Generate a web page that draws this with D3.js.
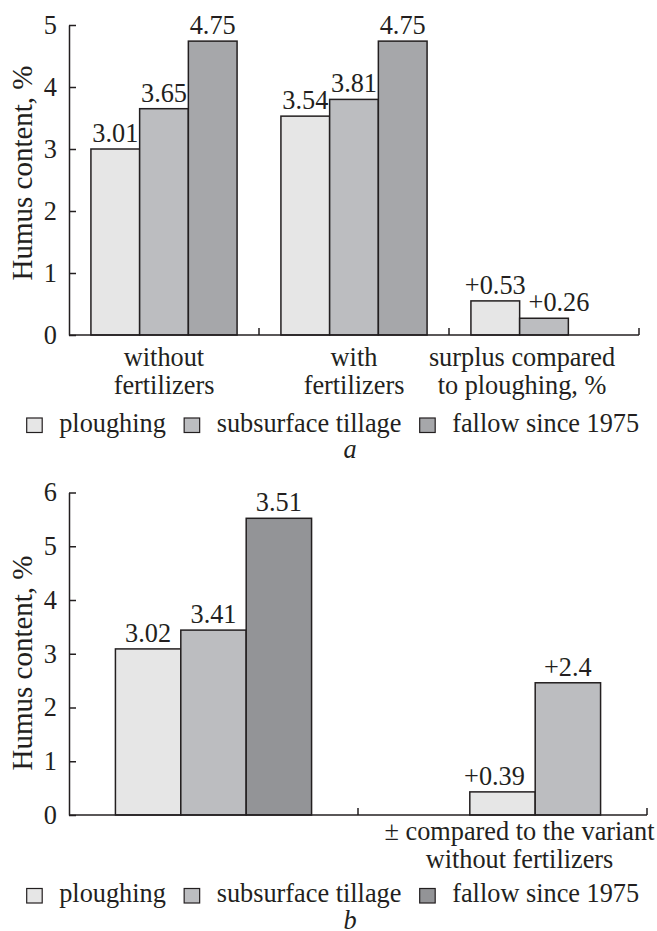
<!DOCTYPE html>
<html><head><meta charset="utf-8">
<script src="https://cdn.jsdelivr.net/npm/d3@7"></script>
<style>
body{margin:0;background:#fff}
svg{display:block}
</style>
</head><body>
<svg id="c" width="657" height="931"></svg>
<script>
// ---------- data ----------
const seriesNames = ["ploughing", "subsurface tillage", "fallow since 1975"];

// panel a
const aCategories = ["without fertilizers", "with fertilizers", "surplus compared to ploughing, %"];
const aCategoryLines = [["without", "fertilizers"], ["with", "fertilizers"], ["surplus compared", "to ploughing, %"]];
const aPloughing = [3.00, 3.53, 0.55];
const aSubsurface = [3.65, 3.80, 0.27];
const aFallow = [4.74, 4.74, null];
const aPloughingLabels = ["3.01", "3.54", "+0.53"];
const aSubsurfaceLabels = ["3.65", "3.81", "+0.26"];
const aFallowLabels = ["4.75", "4.75", null];
const aTicks = [0, 1, 2, 3, 4, 5];

// panel b
const bCategories = ["control", "± compared to the variant without fertilizers"];
const bCategoryLines = [[], ["± compared to the variant", "without fertilizers"]];
const bGroup1Values = [3.09, 3.44, 5.52];
const bGroup1Labels = ["3.02", "3.41", "3.51"];
const bGroup1Series = [0, 1, 2];
const bGroup2Values = [null, 0.43, 2.46];
const bGroup2Labels = [null, "+0.39", "+2.4"];
const bGroup2Series = [null, 0, 1];
const bTicks = [0, 1, 2, 3, 4, 5, 6];

const yTitle = "Humus content, %";

// ---------- style ----------
const FONT = "Liberation Serif";
const FS = 26.3;
const INK = "#231f20";
const colorsA = ["#e6e6e6", "#bcbdc0", "#a6a7aa"];
const colorsB = ["#e6e6e6", "#bcbdc0", "#939497"];

const svg = d3.select("#c");

function txt(sel) {
  return sel.style("font-family", FONT).attr("fill", INK);
}

function panel(cfg) {
  const g = svg.append("g");
  const x = d3.scaleBand().domain(cfg.categories).range([cfg.x0, cfg.x1]).padding(0);
  const slot = d3.scaleBand().domain([0, 1, 2]).range([0, x.bandwidth()])
      .paddingInner(0).paddingOuter(cfg.slotPad);
  const y = d3.scaleLinear().domain([0, cfg.ymax]).range([cfg.yBottom, cfg.yTop]);

  // bars
  const bars = cfg.bars.filter(d => d.value != null);
  g.selectAll("rect.bar").data(bars).join("rect")
    .attr("x", d => x(d.cat) + slot(d.slot))
    .attr("y", d => y(d.value))
    .attr("width", slot.bandwidth())
    .attr("height", d => y(0) - y(d.value))
    .attr("fill", d => cfg.colors[d.series])
    .attr("stroke", INK).attr("stroke-width", 1.5);

  g.selectAll("text.val").data(bars).join("text")
    .attr("x", d => x(d.cat) + slot(d.slot) + slot.bandwidth() / 2 + (d.dx || 0))
    .attr("y", d => y(d.value) - 7)
    .attr("text-anchor", "middle")
    .attr("font-size", FS)
    .call(txt)
    .text(d => d.label);

  // y axis
  const ax = g.append("g").attr("transform", `translate(${cfg.x0},0)`)
    .call(d3.axisLeft(y).tickValues(cfg.ticks).tickFormat(d3.format("d"))
      .tickSizeInner(-7).tickSizeOuter(0).tickPadding(12));
  ax.selectAll("path,line").attr("stroke", INK).attr("stroke-width", 1.5);
  ax.selectAll("text").attr("font-size", FS).call(txt);

  // x axis line + category separators
  g.append("line").attr("x1", cfg.x0).attr("x2", cfg.x1)
    .attr("y1", y(0)).attr("y2", y(0)).attr("stroke", INK).attr("stroke-width", 1.5);
  g.selectAll("line.sep").data(cfg.categories).join("line")
    .attr("x1", d => x(d) + x.bandwidth()).attr("x2", d => x(d) + x.bandwidth())
    .attr("y1", y(0)).attr("y2", y(0) - 7)
    .attr("stroke", INK).attr("stroke-width", 1.5);

  // category labels
  cfg.categories.forEach((c, i) => {
    cfg.catLines[i].forEach((t, j) => {
      g.append("text")
        .attr("x", x(c) + x.bandwidth() / 2 + cfg.catDx[i])
        .attr("y", y(0) + cfg.catGap + j * 28)
        .attr("text-anchor", "middle").attr("font-size", FS).call(txt).text(t);
    });
  });

  // y title
  g.append("text")
    .attr("transform", `translate(32,${cfg.titleY}) rotate(-90)`)
    .attr("text-anchor", "middle").attr("font-size", 29).call(txt).text(yTitle);

  // legend
  let lx = 26.7;
  seriesNames.forEach((s, i) => {
    g.append("rect").attr("x", lx).attr("y", cfg.legendY - 13.5).attr("width", 15.5).attr("height", 14.5)
      .attr("fill", cfg.colors[i]).attr("stroke", INK).attr("stroke-width", 1.2);
    const t = g.append("text").attr("x", lx + 32.5).attr("y", cfg.legendY)
      .attr("font-size", FS).call(txt).text(s);
    lx += 32.5 + t.node().getComputedTextLength() + 18.3;
  });

  // panel letter
  g.append("text").attr("x", 350).attr("y", cfg.letterY).attr("text-anchor", "middle")
    .attr("font-size", FS).attr("font-style", "italic").call(txt).text(cfg.letter);
}

const barsA = [];
[aPloughing, aSubsurface, aFallow].forEach((arr, s) => {
  const labs = [aPloughingLabels, aSubsurfaceLabels, aFallowLabels][s];
  arr.forEach((v, i) => barsA.push({cat: aCategories[i], slot: s, series: s, value: v, label: labs[i],
    dx: (i === 2 && s === 1) ? 15 : 0}));
});

const barsB = [];
[[bGroup1Values, bGroup1Labels, bGroup1Series], [bGroup2Values, bGroup2Labels, bGroup2Series]]
  .forEach(([vals, labs, ser], i) => {
    vals.forEach((v, k) => barsB.push({cat: bCategories[i], slot: k, series: ser[k], value: v, label: labs[k],
      dx: (i === 1 && k === 1) ? -8 : 0}));
  });

panel({
  categories: aCategories, catLines: aCategoryLines, catDx: [0, 0, -22], catGap: 31,
  bars: barsA, colors: colorsA, x0: 69, x1: 639, slotPad: 0.45,
  ymax: 5, yBottom: 335, yTop: 25, ticks: aTicks,
  titleY: 173, legendY: 431.5, letter: "a", letterY: 458
});

panel({
  categories: bCategories, catLines: bCategoryLines, catDx: [0, 17], catGap: 25,
  bars: barsB, colors: colorsB, x0: 69, x1: 647, slotPad: 0.71,
  ymax: 6, yBottom: 815, yTop: 492.5, ticks: bTicks,
  titleY: 663, legendY: 902, letter: "b", letterY: 929
});
</script>
</body></html>
